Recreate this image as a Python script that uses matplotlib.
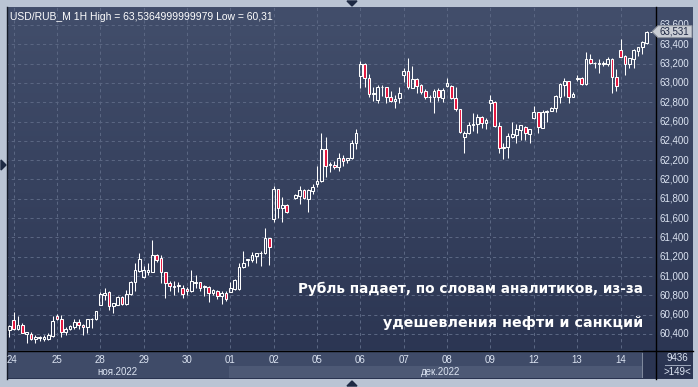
import numpy as np
import matplotlib
matplotlib.use("Agg")
import matplotlib.pyplot as plt
from matplotlib import transforms
from matplotlib.colors import LinearSegmentedColormap
from matplotlib.patches import Polygon, Rectangle
from matplotlib.lines import Line2D

# hourly USD/RUB_M candles, 24 Nov - 14 Dec 2022 (one hour missing on 02 Dec)
nan = float("nan")
opens = [60.44, 60.54, 60.45, 60.49, 60.40, 60.40, 60.35, 60.36, 60.35, 60.35,
         60.38, 60.59, 60.56, 60.42, 60.45, 60.47, 60.52, 60.49, 60.47, 60.55,
         60.55, 60.70, 60.80, 60.83, 60.69, 60.70, 60.78, 60.71, 60.81, 60.94,
         61.05, 60.99, 61.04, 61.045, 61.22, 61.19, 61.04, 60.93, 60.89, 60.90,
         60.88, 60.87, 60.84, 60.925, 60.935, 60.89, 60.89, 60.82, 60.85, 60.79,
         60.82, 60.835, 60.87, 60.87, 61.09, 61.165, 61.17, 61.21, 61.235, 61.235,
         61.39, 61.59, 61.90, 61.70, 61.74, nan, 61.805, 61.83, 61.89, 61.80,
         61.885, 61.95, 61.98, 62.315, 62.15, 62.15, 62.125, 62.22, 62.20, 62.22,
         62.375, 63.07, 63.20, 63.055, 62.88, 62.825, 62.955, 62.955, 62.85, 62.817,
         62.84, 63.08, 63.12, 62.95, 63.037, 62.98, 62.92, 62.855, 62.85, 62.927,
         62.84, 62.968, 62.968, 62.841, 62.727, 62.444, 62.485, 62.56, 62.575, 62.65,
         62.589, 62.795, 62.806, 62.554, 62.323, 62.335, 62.443, 62.461, 62.512, 62.547,
         62.471, 62.633, 62.695, 62.537, 62.70, 62.713, 62.737, 62.858, 62.978, 63.02,
         62.858, 63.037, 63.047, 62.985, 63.244, 63.21, 63.20, 63.196, 63.196, 63.244,
         63.058, 63.341, 63.279, 63.196, 63.244, 63.334, 63.368, 63.41, 63.531]
highs = [60.49, 60.63, 60.59, 60.51, 60.42, 60.42, 60.39, 60.38, 60.39, 60.41,
         60.59, 60.61, 60.60, 60.47, 60.49, 60.56, 60.55, 60.50, 60.56, 60.57,
         60.64, 60.83, 60.88, 60.84, 60.72, 60.79, 60.79, 60.86, 60.95, 61.13,
         61.24, 61.10, 61.14, 61.37, 61.23, 61.22, 61.04, 60.95, 60.95, 60.94,
         60.91, 60.89, 61.06, 61.01, 60.94, 60.91, 60.90, 60.87, 60.86, 60.84,
         60.84, 60.94, 60.97, 61.14, 61.26, 61.18, 61.25, 61.24, 61.26, 61.50,
         61.39, 61.93, 61.90, 61.82, 61.745, nan, 61.85, 61.93, 61.90, 61.90,
         61.95, 62.14, 62.485, 62.44, 62.185, 62.195, 62.27, 62.255, 62.226, 62.41,
         62.52, 63.23, 63.21, 63.09, 62.96, 62.98, 62.98, 62.962, 62.917, 62.875,
         62.96, 63.15, 63.255, 63.17, 63.048, 62.986, 62.937, 62.875, 62.934, 62.944,
         62.95, 63.048, 62.979, 62.962, 62.727, 62.506, 62.60, 62.685, 62.678, 62.658,
         62.634, 62.875, 62.81, 62.599, 62.374, 62.478, 62.599, 62.575, 62.564, 62.554,
         62.523, 62.761, 62.702, 62.72, 62.72, 62.747, 62.871, 63.003, 63.047, 63.02,
         62.909, 63.082, 63.065, 63.317, 63.296, 63.22, 63.244, 63.227, 63.265, 63.255,
         63.141, 63.455, 63.289, 63.255, 63.348, 63.375, 63.438, 63.5365, 63.531]
lows = [60.37, 60.44, 60.44, 60.41, 60.31, 60.34, 60.31, 60.33, 60.33, 60.34,
        60.37, 60.54, 60.37, 60.39, 60.44, 60.45, 60.455, 60.39, 60.41, 60.46,
        60.545, 60.70, 60.75, 60.65, 60.62, 60.70, 60.70, 60.70, 60.80, 60.84,
        61.045, 60.98, 61.01, 61.04, 61.15, 60.93, 60.77, 60.85, 60.80, 60.83,
        60.77, 60.80, 60.835, 60.88, 60.84, 60.79, 60.735, 60.80, 60.76, 60.71,
        60.745, 60.83, 60.86, 60.86, 61.08, 61.10, 61.15, 61.13, 61.10, 61.23,
        61.11, 61.56, 61.60, 61.56, 61.655, nan, 61.80, 61.75, 61.80, 61.66,
        61.85, 61.925, 61.97, 62.03, 62.08, 62.105, 62.09, 62.143, 62.167, 62.21,
        62.315, 62.945, 62.96, 62.85, 62.81, 62.795, 62.86, 62.796, 62.80, 62.737,
        62.79, 63.01, 62.935, 62.945, 62.893, 62.886, 62.83, 62.806, 62.69, 62.817,
        62.806, 62.962, 62.83, 62.713, 62.485, 62.27, 62.47, 62.506, 62.478, 62.53,
        62.52, 62.713, 62.54, 62.271, 62.209, 62.219, 62.426, 62.374, 62.409, 62.409,
        62.374, 62.623, 62.485, 62.53, 62.599, 62.706, 62.695, 62.789, 62.865, 62.789,
        62.858, 63.023, 62.978, 62.978, 63.196, 63.151, 63.106, 63.175, 63.175, 62.892,
        62.92, 63.265, 63.079, 63.151, 63.151, 63.279, 63.30, 63.403, 63.531]
closes = [60.48, 60.45, 60.49, 60.41, 60.42, 60.35, 60.37, 60.37, 60.37, 60.39,
          60.53, 60.55, 60.42, 60.45, 60.48, 60.52, 60.49, 60.47, 60.56, 60.56,
          60.635, 60.81, 60.82, 60.69, 60.72, 60.78, 60.71, 60.81, 60.94, 61.06,
          61.18, 61.06, 61.06, 61.22, 61.17, 61.04, 60.93, 60.90, 60.90, 60.91,
          60.81, 60.84, 60.945, 60.94, 60.88, 60.895, 60.82, 60.855, 60.79, 60.82,
          60.76, 60.875, 60.96, 61.09, 61.14, 61.175, 61.22, 61.235, 61.24, 61.39,
          61.30, 61.90, 61.70, 61.74, 61.66, nan, 61.835, 61.89, 61.805, 61.89,
          61.925, 61.985, 62.315, 62.14, 62.165, 62.125, 62.225, 62.195, 62.225, 62.375,
          62.48, 63.20, 63.055, 62.89, 62.90, 62.955, 62.962, 62.85, 62.817, 62.83,
          62.893, 63.125, 62.955, 63.037, 62.968, 62.91, 62.858, 62.851, 62.92, 62.851,
          62.927, 62.996, 62.841, 62.727, 62.495, 62.485, 62.56, 62.575, 62.65, 62.582,
          62.616, 62.823, 62.554, 62.323, 62.333, 62.45, 62.471, 62.526, 62.561, 62.478,
          62.519, 62.702, 62.547, 62.702, 62.709, 62.74, 62.865, 62.985, 63.02, 62.858,
          62.885, 63.047, 62.985, 63.244, 63.21, 63.203, 63.21, 63.21, 63.244, 63.065,
          62.968, 63.272, 63.196, 63.255, 63.341, 63.368, 63.427, 63.531, 63.531]

day_labels = ["24", "25", "28", "29", "30", "01", "02", "05", "06", "07",
              "08", "09", "12", "13", "14"]
day_first_bar = [1, 11, 21, 31, 41, 51, 61, 71, 81, 91, 101, 111, 121, 131, 141]
month_labels = ["ноя.2022", "дек.2022"]
month_first_bar = [0, 51]
price_ticks = [60.4, 60.6, 60.8, 61.0, 61.2, 61.4, 61.6, 61.8, 62.0, 62.2,
               62.4, 62.6, 62.8, 63.0, 63.2, 63.4, 63.6]
last_price = 63.531
header = "USD/RUB_M 1H High = 63,5364999999979 Low = 60,31"
note_lines = ["Рубль падает, по словам аналитиков, из-за", "удешевления нефти и санкций"]
corner_top, corner_bottom = "9436", ">149<"

W, H = 698, 387
def fx(x):
    return x / W
def fy(y):
    return 1 - y / H

fig = plt.figure(figsize=(W / 100, H / 100), dpi=100, facecolor="#BAC4D4")

# dark panel with vertical gradient
bg = fig.add_axes([fx(8), fy(379), fx(693) - fx(8), fy(7) - fy(379)])
cmap = LinearSegmentedColormap.from_list("bg", ["#2A3451", "#424E6B"])
bg.imshow(np.linspace(0, 1, 256).reshape(-1, 1)[::-1], aspect="auto", cmap=cmap,
          extent=[0, 1, 0, 1])
bg.axis("off")

ax = fig.add_axes([fx(8), fy(350), fx(655) - fx(8), fy(7) - fy(350)])
ax.patch.set_alpha(0)
ax.set_xlim(-0.3, 148.95)
ax.set_ylim(60.234, 63.786)
ax.set_xticks([])
ax.set_yticks([])
for s in ax.spines.values():
    s.set_visible(False)

grid_kw = dict(color="#5A6682", lw=0.75, linestyles=(0, (3, 3)), zorder=1)
ax.hlines(price_ticks, -1, 150, **grid_kw)
ax.vlines(day_first_bar, 60.0, 64.0, **grid_kw)

o = np.array(opens)
h = np.array(highs)
l = np.array(lows)
c = np.array(closes)
x = np.arange(len(o))
ok = ~np.isnan(o)
up = ok & (c >= o)
dn = ok & (c < o)
top = np.maximum(o, c)
bot = np.minimum(o, c)

ax.vlines(x[ok], top[ok], h[ok], color="white", lw=0.75, zorder=2)
ax.vlines(x[ok], l[ok], bot[ok], color="white", lw=0.75, zorder=2)
ax.bar(x[up], (top - bot)[up], bottom=bot[up], width=0.62, facecolor="none",
       edgecolor="white", linewidth=0.75, zorder=3)
ax.bar(x[dn], (top - bot)[dn], bottom=bot[dn], width=0.62, facecolor="#E5153E",
       edgecolor="white", linewidth=0.75, zorder=3)

ax.text(0.003, 0.985, header, transform=ax.transAxes, ha="left", va="top",
        color="white", fontsize=7.5, family="Liberation Sans")

# caption, right aligned
for i, (line, fs) in enumerate(zip(note_lines, [9.8, 10.3])):
    fig.text(fx(643), fy(289 + 34 * i), line, ha="right", va="center",
             color="white", fontsize=fs, fontweight="bold", family="DejaVu Sans")

# bottom date strip
fig.add_artist(Rectangle((fx(8), fy(378)), fx(643) - fx(8), fy(350) - fy(378),
                         transform=fig.transFigure, facecolor="#3F4B68", edgecolor="none"))
xfig = transforms.blended_transform_factory(ax.transData, fig.transFigure)
fig.add_artist(Rectangle((month_first_bar[1] - 0.3, fy(378)), 148.95 - month_first_bar[1],
                         fy(366) - fy(378), transform=xfig, facecolor="#4D5975",
                         edgecolor="none", clip_on=False))
fig.add_artist(Rectangle((fx(643), fy(378)), fx(655) - fx(643), fy(353) - fy(378),
                         transform=fig.transFigure, facecolor="#2B3552",
                         edgecolor="none"))
fig.add_artist(Line2D([fx(642), fx(642)], [fy(353), fy(377)], color="#7E889C", lw=0.75))

for lab, b in zip(day_labels, day_first_bar):
    pos = b if b > 1 else 0.6
    fig.text(0, fy(360), lab, transform=xfig, ha="center", va="center",
             color="#DCE4F2", fontsize=7, family="Liberation Sans").set_x(pos)
month_end = [month_first_bar[1] - 1, len(o) - 1]
for lab, a, b in zip(month_labels, month_first_bar, month_end):
    t = fig.text(0, fy(372), lab, transform=xfig, ha="center", va="center",
                 color="#DCE4F2", fontsize=7, family="Liberation Sans")
    t.set_x((a + b) / 2)

# frame lines
fig.add_artist(Line2D([fx(8), fx(693)], [fy(350.5), fy(350.5)], color="black", lw=1))
fig.add_artist(Line2D([fx(655.5), fx(655.5)], [fy(7), fy(379)], color="black", lw=1))
fig.add_artist(Line2D([fx(7.5), fx(7.5)], [fy(7), fy(379)], color="#151B28", lw=1))

# right price scale (top label partly hidden by the current price marker)
yfig = transforms.blended_transform_factory(fig.transFigure, ax.transData)
for p in price_ticks:
    fig.text(fx(659), p, f"{p:.3f}".replace(".", ","), transform=yfig,
             ha="left", va="center", color="#DCE4F2", fontsize=7,
             family="Liberation Sans", zorder=1)

# current price marker
yl = H - ax.transData.transform((0, last_price))[1]
fig.add_artist(Polygon([(fx(652), fy(yl)), (fx(658), fy(yl - 6)), (fx(692), fy(yl - 6)),
                        (fx(692), fy(yl + 6)), (fx(658), fy(yl + 6))],
                       closed=True, transform=fig.transFigure, zorder=4,
                       facecolor="#C9CDD4", edgecolor="#8A909C", lw=0.75))
fig.text(fx(659), fy(yl), f"{last_price:.3f}".replace(".", ","), ha="left", va="center",
         color="#1B2540", fontsize=7, family="Liberation Sans", zorder=5)

fig.text(fx(677), fy(358), corner_top, ha="center", va="center", color="#DCE4F2",
         fontsize=7, family="Liberation Sans")
fig.add_artist(Line2D([fx(665), fx(690)], [fy(365), fy(365)], color="#9AA4B8", lw=0.75))
fig.text(fx(677), fy(372), corner_bottom, ha="center", va="center", color="#DCE4F2",
         fontsize=7, family="Liberation Sans")

# little scroll markers on the frame
tri = "#1E2A44"
fig.add_artist(Polygon([(fx(1), fy(160)), (fx(1), fy(170)), (fx(6), fy(165))],
                       transform=fig.transFigure, color=tri))
fig.add_artist(Polygon([(fx(347), fy(1)), (fx(357), fy(1)), (fx(352), fy(6))],
                       transform=fig.transFigure, color=tri))
fig.add_artist(Polygon([(fx(347), fy(386)), (fx(357), fy(386)), (fx(352), fy(381))],
                       transform=fig.transFigure, color=tri))

fig.savefig("out.png", dpi=100, facecolor=fig.get_facecolor())
